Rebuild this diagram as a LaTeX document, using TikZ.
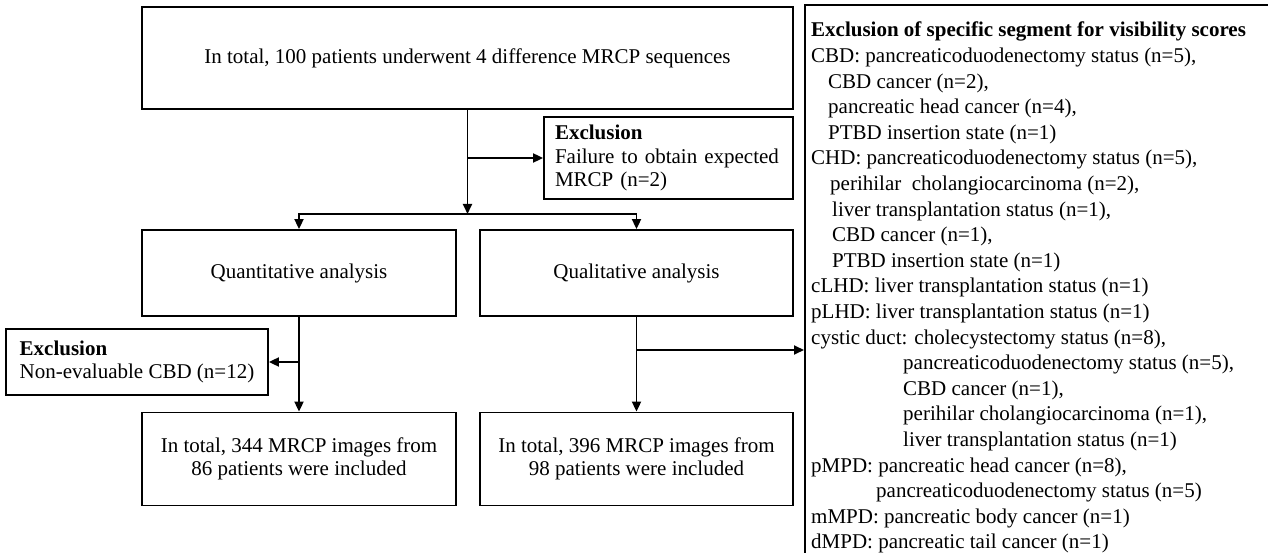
\documentclass[tikz,border=0pt]{standalone}
\usepackage{fontspec}
\setmainfont{Liberation Serif}
\usetikzlibrary{arrows.meta}
\begin{document}
\begin{tikzpicture}[x=1pt,y=-1pt,
  every node/.style={font=\fontsize{21}{23.5}\selectfont},
  box/.style={draw, line width=1.8pt, inner sep=0pt},
  arr/.style={line width=1.8pt, -{Triangle[length=10pt,width=9pt]}},
  ]
\useasboundingbox (0,0) rectangle (1268,553);

% main flow boxes
\node[box, minimum width=651pt, minimum height=102pt] (top) at (467.5,58)
  {In total, 100 patients underwent 4 difference MRCP sequences};
\node[box, minimum height=82pt, align=left, text width=227pt, inner xsep=11pt] (exc1) at (668.5,158)
  {\textbf{Exclusion}\\Failure to obtain expected\\MRCP (n=2)};
\node[box, minimum width=314pt, minimum height=86pt] (quant) at (299,273) {Quantitative analysis};
\node[box, minimum width=313pt, minimum height=86pt] (qual) at (636.5,273) {Qualitative analysis};
\node[box, minimum width=262pt, minimum height=66pt, align=left] (exc2) at (137,362)
  {\textbf{Exclusion}\\Non-evaluable CBD (n=12)};
\node[box, minimum width=314pt, minimum height=93pt, align=center] (quantres) at (299,459)
  {In total, 344 MRCP images from\\86 patients were included};
\node[box, minimum width=313pt, minimum height=93pt, align=center] (qualres) at (636.5,459)
  {In total, 396 MRCP images from\\98 patients were included};

% right panel (extends beyond the page on the right and bottom)
\node[box, anchor=north west, minimum width=520pt, minimum height=600pt] (panel) at (804,4) {};
\node[anchor=north west, align=left, inner sep=0pt, font=\fontsize{21}{25.6}\selectfont] (ptext) at (811,22) {%
\textbf{Exclusion of specific segment for visibility scores}\\
CBD: pancreaticoduodenectomy status (n=5),\\
\hspace*{17pt}CBD cancer (n=2),\\
\hspace*{17pt}pancreatic head cancer (n=4),\\
\hspace*{17pt}PTBD insertion state (n=1)\\
CHD: pancreaticoduodenectomy status (n=5),\\
\hspace*{19pt}perihilar\ \ cholangiocarcinoma (n=2),\\
\hspace*{21pt}liver transplantation status (n=1),\\
\hspace*{21pt}CBD cancer (n=1),\\
\hspace*{21pt}PTBD insertion state (n=1)\\
cLHD: liver transplantation status (n=1)\\
pLHD: liver transplantation status (n=1)\\
cystic duct: cholecystectomy status (n=8),\\
\hspace*{92pt}pancreaticoduodenectomy status (n=5),\\
\hspace*{92pt}CBD cancer (n=1),\\
\hspace*{92pt}perihilar cholangiocarcinoma (n=1),\\
\hspace*{92pt}liver transplantation status (n=1)\\
pMPD: pancreatic head cancer (n=8),\\
\hspace*{65pt}pancreaticoduodenectomy status (n=5)\\
mMPD: pancreatic body cancer (n=1)\\
dMPD: pancreatic tail cancer (n=1)};

% connectors
\coordinate (split) at (467.5,214);
\coordinate (qb) at (636.5,350);
\draw[arr] (top.south) -- (split);
\draw[arr] (top.south |- exc1.west) -- (exc1.west);
\draw[arr] (split) -| (quant.north);
\draw[arr] (split) -| (qual.north);
\draw[arr] (quant.south) -- (quantres.north);
\draw[arr] (quant.south |- exc2.east) -- (exc2.east);
\draw[arr] (qual.south) -- (qualres.north);
\draw[arr] (qb) -- (qb -| panel.west);
\end{tikzpicture}
\end{document}
